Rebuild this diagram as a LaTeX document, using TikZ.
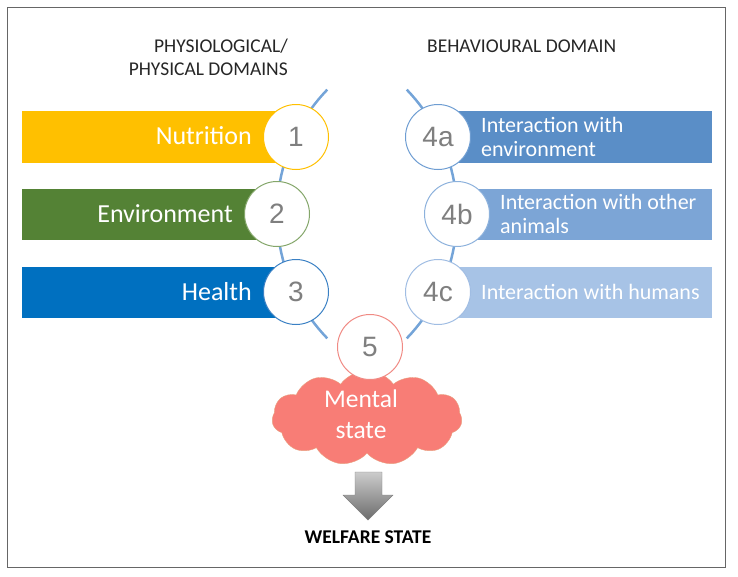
\documentclass[tikz,border=0pt]{standalone}
\usepackage{fontspec}
\setmainfont{Carlito}
\newfontfamily\numfont{Liberation Sans}
\usetikzlibrary{shapes.symbols}
\definecolor{nutri}{HTML}{FFC000}
\definecolor{envir}{HTML}{548235}
\definecolor{envring}{HTML}{84A66A}
\definecolor{health}{HTML}{0070C0}
\definecolor{healthring}{HTML}{3A80C4}
\definecolor{inta}{HTML}{5A8EC7}
\definecolor{intb}{HTML}{7CA5D6}
\definecolor{intc}{HTML}{A7C3E6}
\definecolor{ringa}{HTML}{6E9DD2}
\definecolor{ringb}{HTML}{8CB1DC}
\definecolor{ringc}{HTML}{A0BDE3}
\definecolor{arcblue}{HTML}{74A4D8}
\definecolor{numgray}{HTML}{7F7F7F}
\definecolor{cloudfill}{HTML}{F87D76}
\definecolor{cloudline}{HTML}{E8A080}
\definecolor{ring5}{HTML}{F08A84}

\begin{document}
\begin{tikzpicture}[x=1pt,y=-1pt,
  num/.style={circle,fill=white,draw,line width=1pt,minimum size=65pt,inner sep=0pt,
    text=numgray,font=\numfont\fontsize{28}{28}\selectfont},
  lbl/.style={text=white,inner sep=0pt,anchor=base east,font=\fontsize{26}{28}\selectfont},
  ilbl/.style={text=white,inner sep=0pt,align=left,anchor=west,font=\fontsize{22}{24}\selectfont},
  head/.style={inner sep=0pt,text=black!85,font=\fontsize{19.5}{23}\selectfont}]
\useasboundingbox (0,0) rectangle (738,576);
\draw[black!60,line width=0.8pt] (7,7) rectangle (725,567);

% headings
\node[head,anchor=north east,align=right] (hphys) at (288,39) {PHYSIOLOGICAL/\\PHYSICAL DOMAINS};
\node[head,anchor=base west] (hbeh) at (427,52) {BEHAVIOURAL DOMAIN};

% the two arcs
\draw[arcblue,line width=2.5pt] plot[domain=-44:44,samples=40] ({456-179*cos(\x)},{214+179*sin(\x)});
\draw[arcblue,line width=2.5pt] plot[domain=-44:44,samples=40] ({278+179*cos(\x)},{214+179*sin(\x)});

% bars
\fill[nutri] (22,111) rectangle (296,163);
\fill[envir] (22,189) rectangle (277,240);
\fill[health] (22,267) rectangle (296,318);
\fill[inta] (438,111) rectangle (712,163);
\fill[intb] (457,189) rectangle (712,240);
\fill[intc] (438,267) rectangle (712,318);

% numbered circles
\node[num,draw=nutri] (c1) at (296,137) {1};
\node[num,draw=envring] (c2) at (277,214) {2};
\node[num,draw=healthring] (c3) at (296,292) {3};
\node[num,draw=ringa] (c4a) at (438,137) {4a};
\node[num,draw=ringb] (c4b) at (457,214) {4b};
\node[num,draw=ringc] (c4c) at (438,292) {4c};

\node[lbl] (tnut) at ([xshift=-11pt,yshift=-7pt]c1.west) {Nutrition};
\node[lbl] (tenv) at ([xshift=-11pt,yshift=-8pt]c2.west) {Environment};
\node[lbl] (thea) at ([xshift=-11pt,yshift=-8pt]c3.west) {Health};
\node[ilbl] (tia) at ([xshift=10pt]c4a.east) {Interaction with\\environment};
\node[ilbl] (tib) at ([xshift=10pt]c4b.east) {Interaction with other\\animals};
\node[ilbl] (tic) at ([xshift=10pt]c4c.east) {Interaction with humans};

% mental state
\node[cloud,cloud puffs=11,cloud puff arc=110,aspect=2,fill=cloudfill,draw=cloudline,
  minimum width=190pt,minimum height=95pt] (cloud) at (367,418) {};
\node[num,draw=ring5] (c5) at (370,347) {5};
\node[text=white,align=center,inner sep=0pt,font=\fontsize{25.5}{31}\selectfont] (tms) at (361,414) {Mental\\state};

% arrow to welfare state
\shade[top color=gray!40,bottom color=gray!85!black,draw=gray] (355,472) -- (382,472) -- (382,495)
  -- (393,495) -- (368,520) -- (343,495) -- (355,495) -- cycle;
\node[inner sep=0pt,font=\bfseries\fontsize{19.5}{20}\selectfont] (twel) at (368,537) {WELFARE STATE};
\end{tikzpicture}
\end{document}
